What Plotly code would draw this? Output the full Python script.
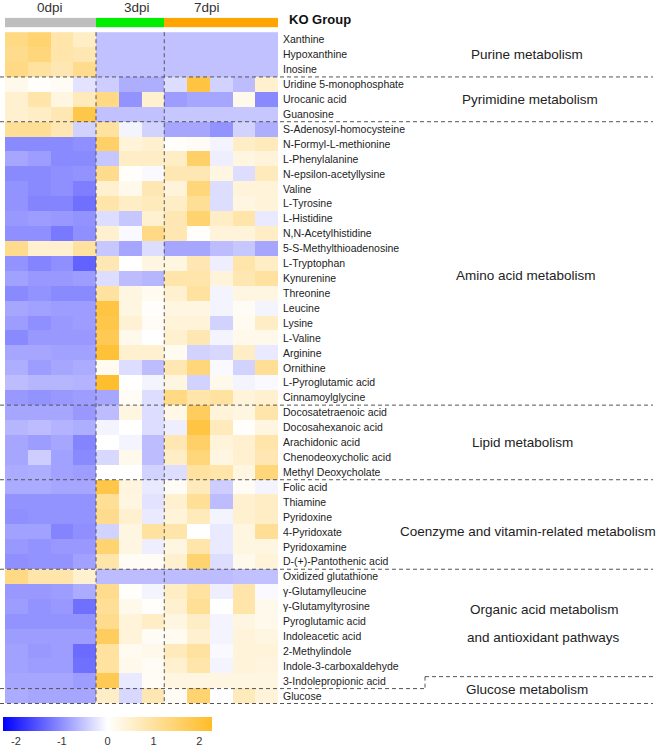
import plotly.graph_objects as go

W, H = 661, 749

metabolites = [
    "Xanthine", "Hypoxanthine", "Inosine",
    "Uridine 5-monophosphate", "Urocanic acid", "Guanosine",
    "S-Adenosyl-homocysteine", "N-Formyl-L-methionine", "L-Phenylalanine",
    "N-epsilon-acetyllysine", "Valine", "L-Tyrosine", "L-Histidine",
    "N,N-Acetylhistidine", "5-S-Methylthioadenosine", "L-Tryptophan",
    "Kynurenine", "Threonine", "Leucine", "Lysine", "L-Valine", "Arginine",
    "Ornithine", "L-Pyroglutamic acid", "Cinnamoylglycine",
    "Docosatetraenoic acid", "Docosahexanoic acid", "Arachidonic acid",
    "Chenodeoxycholic acid", "Methyl Deoxycholate",
    "Folic acid", "Thiamine", "Pyridoxine", "4-Pyridoxate", "Pyridoxamine",
    "D-(+)-Pantothenic acid",
    "Oxidized glutathione", "γ-Glutamylleucine", "γ-Glutamyltyrosine",
    "Pyroglutamic acid", "Indoleacetic acid", "2-Methylindole",
    "Indole-3-carboxaldehyde", "3-Indolepropionic acid",
    "Glucose",
]

samples = ["0dpi_1", "0dpi_2", "0dpi_3", "0dpi_4",
           "3dpi_1", "3dpi_2", "3dpi_3",
           "7dpi_1", "7dpi_2", "7dpi_3", "7dpi_4", "7dpi_5"]
sample_group = [0, 0, 0, 0, 1, 1, 1, 2, 2, 2, 2, 2]

values = [
    [1.3, 1.5, 0.9, 0.6, -0.55, -0.55, -0.55, -0.55, -0.55, -0.55, -0.55, -0.55],
    [1.2, 1.4, 0.9, 0.8, -0.55, -0.55, -0.55, -0.55, -0.55, -0.55, -0.55, -0.55],
    [1.3, 1.0, 0.8, 1.2, -0.55, -0.55, -0.55, -0.55, -0.55, -0.55, -0.55, -0.55],
    [0.2, 0.05, 0.1, -0.25, -0.45, -0.72, -0.72, -0.3, 2.0, -0.4, -0.6, 0.5],
    [0.5, 0.9, 0.3, 0.7, 1.3, -0.97, 0.5, -0.88, -0.8, -0.8, 0.2, -1.05],
    [0.5, 0.6, 0.8, 1.9, -0.55, -0.55, -0.55, -0.5, -0.5, -0.5, -0.5, -0.5],
    [1.1, 1.1, 0.8, -0.4, 1.0, -0.1, -0.4, -0.8, -0.8, -0.97, -0.4, -0.72],
    [-1.05, -1.05, -1.05, -1.0, 1.6, 0.4, 0.5, 0.05, 0.1, -0.1, 0.6, 0.7],
    [-0.8, -0.88, -1.05, -1.05, -0.5, 0.6, 0.6, 0.6, 1.6, -0.15, 0.3, 0.4],
    [-1.05, -1.05, -1.0, -0.97, 1.2, 0.05, -0.05, 0.8, 0.8, 0.3, -0.3, 0.7],
    [-0.97, -1.05, -1.0, -1.15, 0.5, 0.2, 0.8, 0.4, 1.4, -0.3, 0.4, 0.4],
    [-0.97, -1.1, -1.1, -1.28, 0.9, 0.6, 0.7, 0.6, 1.1, -0.3, 0.3, 0.4],
    [-0.92, -0.88, -0.92, -0.97, -0.3, -0.5, 0.5, 0.8, 1.5, 0.6, 0.9, -0.2],
    [-1.0, -1.0, -1.2, -1.0, 0.5, -0.05, 1.3, 0.8, 0.05, 0.4, 0.4, 0.6],
    [1.2, 0.5, 0.5, 1.0, -0.5, -0.8, -0.3, -0.8, -0.8, -0.6, -0.5, -0.8],
    [-0.97, -1.1, -1.0, -1.4, 0.8, 0.0, 0.3, 0.3, 0.8, -0.15, 0.9, 0.6],
    [-0.84, -0.92, -0.92, -0.88, -0.3, -0.6, -0.65, 0.9, 0.9, 0.4, 0.8, 1.0],
    [-1.05, -0.97, -1.05, -1.05, 1.0, 0.3, 0.15, 0.5, 1.0, -0.1, 0.3, 0.3],
    [-0.8, -0.84, -0.88, -0.88, 2.0, 0.3, 0.05, 0.3, 0.3, -0.1, 0.1, -0.1],
    [-0.88, -1.0, -0.92, -0.88, 1.9, 0.45, 0.1, 0.4, 0.4, -0.4, 0.15, 0.6],
    [-1.05, -0.92, -0.92, -0.92, 1.8, 0.2, 0.0, 0.5, 0.8, -0.1, 0.2, 0.2],
    [-0.8, -0.8, -0.84, -0.84, 2.1, 0.5, 0.5, 0.15, -0.4, -0.35, 0.6, -0.2],
    [-0.72, -0.88, -0.8, -0.75, 0.15, -0.3, -0.6, 0.8, 1.4, -0.05, -0.4, 1.1],
    [-0.6, -0.65, -0.65, -0.68, 2.2, 0.0, -0.1, 0.3, -0.4, 0.2, -0.1, -0.05],
    [-0.92, -0.97, -0.92, -0.88, -0.8, 0.1, -0.3, 1.3, 0.9, 1.0, 0.4, 0.5],
    [-0.8, -0.8, -0.8, -0.92, -0.6, 0.3, -0.3, 0.25, 1.7, 0.4, 0.3, 0.9],
    [-0.65, -0.6, -0.68, -0.72, -0.1, 0.0, -0.3, -0.15, 2.0, 0.7, 0.05, 0.3],
    [-0.8, -0.88, -0.8, -1.1, 0.0, -0.1, -0.6, 0.8, 1.6, 0.4, 0.5, 0.9],
    [-0.8, -0.45, -0.84, -1.05, -0.35, 0.2, -0.6, 0.6, 1.4, 0.3, 0.5, 0.8],
    [-0.75, -0.72, -0.84, -0.88, 0.0, 0.0, -0.4, -0.3, 1.0, 0.9, 0.3, 1.4],
    [-0.75, -0.75, -0.8, -0.8, 1.9, 0.35, -0.2, 0.1, 0.7, -0.45, 0.1, -0.1],
    [-0.97, -0.97, -0.97, -0.97, 1.1, 0.3, -0.25, 0.5, 1.1, -0.6, 0.5, 0.6],
    [-1.0, -0.97, -0.97, -0.97, 1.2, 0.5, -0.2, 0.4, 0.7, -0.1, 0.5, 0.6],
    [-0.84, -0.84, -1.1, -1.0, -0.4, 0.3, 1.0, 0.9, 0.0, -0.2, 0.3, 1.1],
    [-0.92, -0.97, -0.92, -0.92, 1.5, 0.3, -0.15, 0.3, 0.9, -0.2, 0.3, 0.3],
    [-1.0, -0.97, -0.97, -0.84, 0.9, 0.1, 0.1, 0.5, 1.5, -0.3, 0.2, 0.4],
    [1.3, 0.9, 0.9, 0.5, -0.6, -0.6, -0.6, -0.6, -0.6, -0.6, -0.55, -0.55],
    [-0.92, -0.92, -0.88, -0.75, 1.2, 0.05, -0.1, 0.6, 1.0, -0.15, 0.9, -0.05],
    [-0.88, -0.97, -0.92, -1.28, 1.1, 0.2, 0.05, 0.5, 1.1, 0.0, 0.9, 0.2],
    [-0.97, -0.97, -0.97, -0.97, 1.2, 0.4, 0.6, 0.3, 0.6, -0.1, 0.3, 0.2],
    [-0.88, -0.88, -0.88, -0.88, 1.7, 0.4, 0.1, 0.15, 0.5, -0.1, 0.4, 0.3],
    [-0.84, -0.92, -0.88, -1.32, 1.0, 0.15, 0.2, 0.7, 1.0, -0.05, 0.4, 0.4],
    [-0.84, -0.88, -0.88, -1.28, 1.0, 0.2, 0.1, 0.5, 0.9, -0.1, 0.4, 0.35],
    [-0.8, -0.8, -0.8, -0.88, 1.8, -0.2, 0.1, 0.3, 0.3, 0.3, 0.3, 0.3],
    [-0.75, -0.8, -0.8, -0.8, 0.6, -0.35, 0.8, 0.1, 1.5, 0.0, 0.7, 0.4],
]

group_names = ["0dpi", "3dpi", "7dpi"]
group_colors = ["#BEBEBE", "#00EE00", "#FFA500"]

colorbar_ticks = [-2, -1, 0, 1, 2]
colorbar_ticktext = ["-2", "-1", "0", "1", "2"]

# pathway label: text, row position (index units), x pixel centre
pathways = [
    ("Purine metabolism", 1.0, 527),
    ("Pyrimidine metabolism", 4.0, 530),
    ("Amino acid metabolism", 15.8, 526),
    ("Lipid metabolism", 27.0, 522),
    ("Coenzyme and vitamin-related metabolism", 33.0, 528),
    ("Organic acid metabolism", 38.2, 544),
    ("and antioxidant pathways", 40.1, 543),
    ("Glucose metabolism", 43.55, 527),
]
# row boundaries (after row index) for full-width separators
separators = [2.5, 5.5, 24.5, 29.5, 35.5, 44.5]

FONT = "Liberation Sans, Arial, sans-serif"

def px_x(p):
    return p / W

def px_y(p):
    return 1 - p / H

hm_left, hm_right = 5, 278
hm_top, hm_bot = 31.7, 704

fig = go.Figure()

fig.add_trace(go.Heatmap(
    z=values, x=list(range(len(samples))), y=metabolites,
    colorscale=[[0, "rgb(0,0,255)"], [0.5, "rgb(255,255,255)"], [1, "rgb(255,188,38)"]],
    zmin=-2.28, zmax=2.28,
    xaxis="x", yaxis="y",
    colorbar=dict(
        orientation="h", lenmode="pixels", len=209, thickness=14,
        x=px_x((3.3 + 212) / 2), xanchor="center",
        y=px_y(717), yanchor="top", xpad=0, ypad=0,
        outlinewidth=0, tickvals=colorbar_ticks, ticktext=colorbar_ticktext,
        ticks="",
        tickfont=dict(family=FONT, size=11, color="#333333"),
    ),
))

fig.add_trace(go.Heatmap(
    z=[sample_group], x=list(range(len(samples))), y=["KO Group"],
    colorscale=[[0, group_colors[0]], [0.333, group_colors[0]],
                [0.333, group_colors[1]], [0.667, group_colors[1]],
                [0.667, group_colors[2]], [1, group_colors[2]]],
    zmin=0, zmax=2, showscale=False, xaxis="x2", yaxis="y2",
))

shapes = []
dash = dict(color="#555555", width=1, dash="4px,3px")
for b in separators:
    shapes.append(dict(type="line", xref="paper", yref="y", x0=0, x1=px_x(653),
                       y0=b, y1=b, line=dash))
# stepped separator between 3-Indolepropionic acid and Glucose
shapes.append(dict(type="line", xref="paper", yref="y", x0=0, x1=px_x(425),
                   y0=43.5, y1=43.5, line=dash))
shapes.append(dict(type="line", xref="paper", yref="y", x0=px_x(425), x1=px_x(425),
                   y0=42.7, y1=43.5, line=dash))
shapes.append(dict(type="line", xref="paper", yref="y", x0=px_x(425), x1=px_x(653),
                   y0=42.7, y1=42.7, line=dash))
for xb in [3.5, 6.5]:
    shapes.append(dict(type="line", xref="x", yref="y", x0=xb, x1=xb,
                       y0=-0.5, y1=44.5, line=dash))

annotations = []
for text, yy, xc in pathways:
    annotations.append(dict(text=text, xref="paper", yref="y", x=px_x(xc), y=yy,
                            xanchor="center", yanchor="middle", showarrow=False,
                            font=dict(family=FONT, size=13.5, color="#222222")))
for text, xp in zip(group_names, [50, 137, 207]):
    annotations.append(dict(text=text, xref="paper", yref="paper", x=px_x(xp), y=px_y(7),
                            xanchor="center", yanchor="middle", showarrow=False,
                            font=dict(family=FONT, size=13.5, color="#333333")))
annotations.append(dict(text="<b>KO Group</b>", xref="paper", yref="paper",
                        x=px_x(287), y=px_y(20), xanchor="left", yanchor="middle",
                        showarrow=False, font=dict(family=FONT, size=13, color="#111111")))

fig.update_layout(
    width=W, height=H, margin=dict(l=0, r=0, t=0, b=0),
    paper_bgcolor="white", plot_bgcolor="white",
    showlegend=False,
    xaxis=dict(domain=[px_x(hm_left), px_x(hm_right)], range=[-0.5, 11.5],
               showticklabels=False, showgrid=False, zeroline=False, ticks=""),
    yaxis=dict(domain=[px_y(hm_bot), px_y(hm_top)], autorange="reversed",
               side="right", ticks="", showgrid=False, zeroline=False,
               ticklabelstandoff=4,
               tickfont=dict(family=FONT, size=10.5, color="#222222")),
    xaxis2=dict(domain=[px_x(hm_left), px_x(hm_right)], range=[-0.5, 11.5],
                showticklabels=False, showgrid=False, zeroline=False, anchor="y2"),
    yaxis2=dict(domain=[px_y(27.3), px_y(17.7)], showticklabels=False,
                showgrid=False, zeroline=False, anchor="x2"),
    shapes=shapes, annotations=annotations,
)

fig.write_html("out.html")
